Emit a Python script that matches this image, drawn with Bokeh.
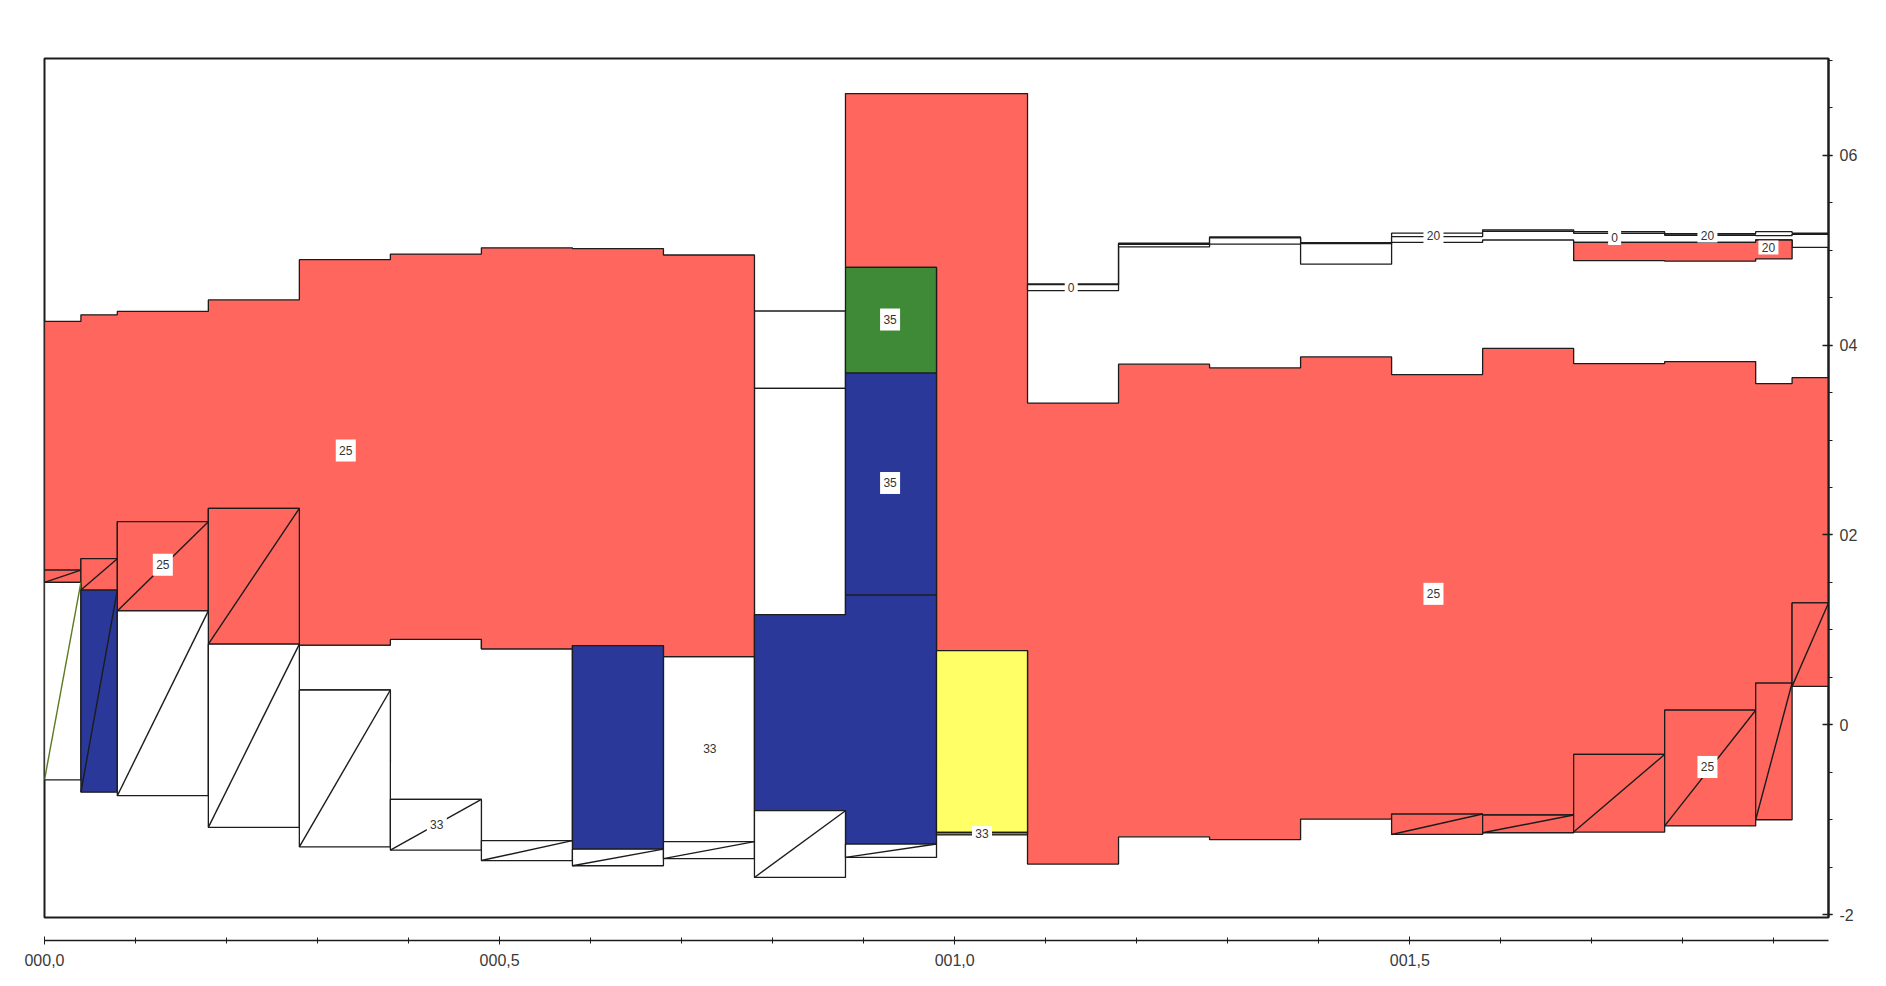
from bokeh.plotting import figure
from bokeh.layouts import column
from bokeh.models import Range1d, FixedTicker, ColumnDataSource
from bokeh.embed import file_html
from bokeh.resources import INLINE
from bokeh.core.properties import value

# ---------------- data ----------------
col_edges = [0.00, 0.04, 0.08, 0.18, 0.28, 0.38, 0.48, 0.58, 0.68, 0.78, 0.88, 0.98,
             1.08, 1.18, 1.28, 1.38, 1.48, 1.58, 1.68, 1.78, 1.88, 1.92, 1.96]

# unit 25 (red), western body, columns 0..8
red_w_first = 0
red_w_top = [4.25, 4.32, 4.355, 4.476, 4.90, 4.96, 5.025, 5.017, 4.95]
red_w_bot = [1.63, 1.75, 2.14, 2.28, 0.84, 0.90, 0.80, 0.834, 0.718]

# unit 25 (red), eastern body, columns 10..21
red_e_first = 10
red_e_top = [6.65, 6.65, 3.39, 3.80, 3.76, 3.876, 3.69, 3.965, 3.806, 3.827, 3.594, 3.657]
red_e_bot = [4.82, 0.781, -1.467, -1.18, -1.21, -0.994, -0.94, -0.95, -0.312, 0.154, 0.44, 1.284]

# unit 33 (white), plain cells
white_w_first = 4
white_w_top = [0.84, 0.90, 0.80]
white_w_bot = [0.367, -0.786, -1.22]
white_c8_top = [0.718]
white_c8_bot = [-1.23]
white_c9_top = [4.36, 3.545]
white_c9_bot = [3.545, 1.16]

# unit 35 (blue / green)
blue_c7_top = [0.834]
blue_c7_bot = [-1.31]
blue_low_first = 9
blue_low_top = [1.16, 1.368]
blue_low_bot = [-0.905, -1.256]
blue_up_top = [3.707]
blue_up_bot = [1.368]
green_top = [4.82]
green_bot = [3.707]

# yellow unit and thin 33 seam, column 11
yellow_top = [0.781]
yellow_bot = [-1.134]
seam_top = [-1.134]
seam_bot = [-1.16]

# thin surface units (columns 12..21)
top_first = 12
top20_top = [4.645, 5.075, 5.14, 5.08, 5.18, 5.215, 5.195, 5.175, 5.195, 5.18]
top20_bot = [4.637, 5.062, 5.13, 5.07, 5.143, 5.198, 5.178, 5.158, 5.153, 5.168]
top0_bot = [4.575, 5.036, 5.064, 4.853, 5.083, 5.108, 5.083, 5.083, 5.108, 5.03]
red20_first = 18
red20_top = [5.083, 5.083, 5.108]
red20_bot = [4.89, 4.885, 4.908]

# wedge cells (column, bottom, top, unit) – each split by a diagonal
wedge_col = [0, 1, 2, 3, 0, 1, 2, 3, 4, 5, 6, 7, 8, 9, 10, 16, 17, 18, 19, 20, 21]
wedge_bot = [1.50, 1.42, 1.20, 0.85, -0.58, -0.71, -0.747, -1.08, -1.285, -1.32, -1.43,
             -1.485, -1.41, -1.608, -1.397, -1.155, -1.137, -1.13, -1.065, -1.0, 0.405]
wedge_top = [1.63, 1.75, 2.14, 2.28, 1.50, 1.42, 1.20, 0.85, 0.367, -0.786, -1.22,
             -1.31, -1.23, -0.905, -1.256, -0.94, -0.95, -0.312, 0.154, 0.44, 1.284]
wedge_unit = ["25", "25", "25", "25", "33", "35", "33", "33", "33", "33", "33",
              "33", "33", "33", "33", "25", "25", "25", "25", "25", "25"]

# unit labels
label_text = ["25", "25", "33", "33", "35", "35", "33", "0", "25", "25", "20", "0", "20", "20"]
label_x = [0.331, 0.130, 0.431, 0.731, 0.929, 0.929, 1.030, 1.128, 1.526, 1.827, 1.526, 1.725, 1.827, 1.894]
label_y = [2.89, 1.686, -1.05, -0.253, 4.27, 2.548, -1.14, 4.61, 1.38, -0.444, 5.15, 5.13, 5.155, 5.03]

# axes
x_tick_values = [0, 0.5, 1.0, 1.5]
x_tick_labels = ["000,0", "000,5", "001,0", "001,5"]
y_tick_values = [-2, 0, 2, 4, 6]
y_tick_labels = ["-2", "0", "02", "04", "06"]

# ---------------- style ----------------
RED = "#FF675E"
BLUE = "#2A3899"
GREEN = "#3F8A37"
YELLOW = "#FFFF66"
WHITE = "#FFFFFF"
SEAM = "#8A8420"
INK = "#1c1c1c"
unit_color = {"25": RED, "33": WHITE, "35": BLUE}
FONT = "Liberation Sans"


def step_poly(first, tops, bots):
    xs, ys = [], []
    for i, t in enumerate(tops):
        xs += [col_edges[first + i], col_edges[first + i + 1]]
        ys += [t, t]
    for i in range(len(bots) - 1, -1, -1):
        xs += [col_edges[first + i + 1], col_edges[first + i]]
        ys += [bots[i], bots[i]]
    return xs, ys


layers = [
    (WHITE, white_w_first, white_w_top, white_w_bot),
    (WHITE, 8, white_c8_top, white_c8_bot),
    (WHITE, 9, white_c9_top[:1], white_c9_bot[:1]),
    (WHITE, 9, white_c9_top[1:], white_c9_bot[1:]),
    (RED, red_w_first, red_w_top, red_w_bot),
    (RED, red_e_first, red_e_top, red_e_bot),
    (BLUE, 7, blue_c7_top, blue_c7_bot),
    (BLUE, blue_low_first, blue_low_top, blue_low_bot),
    (BLUE, 10, blue_up_top, blue_up_bot),
    (GREEN, 10, green_top, green_bot),
    (YELLOW, 11, yellow_top, yellow_bot),
    (SEAM, 11, seam_top, seam_bot),
    (WHITE, top_first, top20_top, top20_bot),
    (WHITE, top_first, top20_bot, top0_bot),
    (RED, red20_first, red20_top, red20_bot),
]

pxs, pys, pcol = [], [], []
for colr, first, tops, bots in layers:
    xs, ys = step_poly(first, tops, bots)
    pxs.append(xs)
    pys.append(ys)
    pcol.append(colr)

x_rng = Range1d(0, 1.96)
p = figure(frame_width=1784, frame_height=859, x_range=x_rng, y_range=Range1d(-2.03, 7.02),
           output_backend="svg", toolbar_location=None,
           x_axis_location=None, y_axis_location="right",
           min_border_left=44, min_border_top=58, min_border_bottom=14, min_border_right=50)
p.grid.visible = False
p.outline_line_color = INK
p.outline_line_width = 2
p.background_fill_color = "white"

p.patches(xs="xs", ys="ys", fill_color="c", line_color=INK, line_width=1.3,
          source=ColumnDataSource(dict(xs=pxs, ys=pys, c=pcol)))

# wedge cells
wl = [col_edges[c] for c in wedge_col]
wr = [col_edges[c + 1] for c in wedge_col]
wc = [unit_color[u] for u in wedge_unit]
dcol = ["#5C7A1E" if (c == 0 and u == "33") else INK for c, u in zip(wedge_col, wedge_unit)]
wsrc = ColumnDataSource(dict(l=wl, r=wr, b=wedge_bot, t=wedge_top, c=wc, d=dcol))
p.quad(left="l", right="r", bottom="b", top="t", fill_color="c", line_color=INK,
       line_width=1.3, source=wsrc)
p.segment(x0="l", y0="b", x1="r", y1="t", line_color="d", line_width=1.4, source=wsrc)

# labels with white boxes
bw = [7 * len(t) + 6 for t in label_text]
bh = [22 if t in ("25", "35") else 14 for t in label_text]
lsrc = ColumnDataSource(dict(x=label_x, y=label_y, t=label_text, w=bw, h=bh))
p.rect(x="x", y="y", width="w", height="h", width_units="screen", height_units="screen",
       fill_color="white", line_color=None, source=lsrc)
p.text(x="x", y="y", text="t", text_align="center", text_baseline="middle",
       text_font=value(FONT), text_font_size="12px", text_color="#333333", source=lsrc)

ya = p.yaxis[0]
y_minor = [v / 2 for v in range(-4, 15)]
ya.ticker = FixedTicker(ticks=y_tick_values, minor_ticks=y_minor)
ya.major_label_overrides = dict(zip(y_tick_values, y_tick_labels))
ya.axis_line_color = INK
ya.axis_line_width = 2
ya.major_tick_line_color = INK
ya.major_tick_line_width = 1.3
ya.major_tick_in = 6
ya.major_tick_out = 4
ya.minor_tick_line_color = INK
ya.minor_tick_in = 0
ya.minor_tick_out = 4
ya.major_label_standoff = 7
ya.major_label_text_font = FONT
ya.major_label_text_font_size = "16px"
ya.major_label_text_color = "#3a3a3a"

# separate x axis strip below the frame
p2 = figure(frame_width=1784, frame_height=9, x_range=x_rng, y_range=Range1d(0, 1),
            output_backend="svg", toolbar_location=None,
            x_axis_location="below", y_axis_location=None,
            min_border_left=44, min_border_right=50, min_border_top=0, min_border_bottom=4)
p2.grid.visible = False
p2.outline_line_color = None
xa = p2.xaxis[0]
x_minor = [v / 10 for v in range(0, 20)]
xa.ticker = FixedTicker(ticks=x_tick_values, minor_ticks=x_minor)
xa.major_label_overrides = dict(zip(x_tick_values, x_tick_labels))
xa.axis_line_color = INK
xa.axis_line_width = 1.3
xa.major_tick_line_color = INK
xa.major_tick_in = 4
xa.major_tick_out = 4
xa.minor_tick_line_color = INK
xa.minor_tick_in = 3
xa.minor_tick_out = 3
xa.major_label_standoff = 9
xa.major_label_text_font = FONT
xa.major_label_text_font_size = "16px"
xa.major_label_text_color = "#3a3a3a"

layout = column(p, p2, spacing=0)
open("out.html", "w").write(file_html(layout, INLINE))
